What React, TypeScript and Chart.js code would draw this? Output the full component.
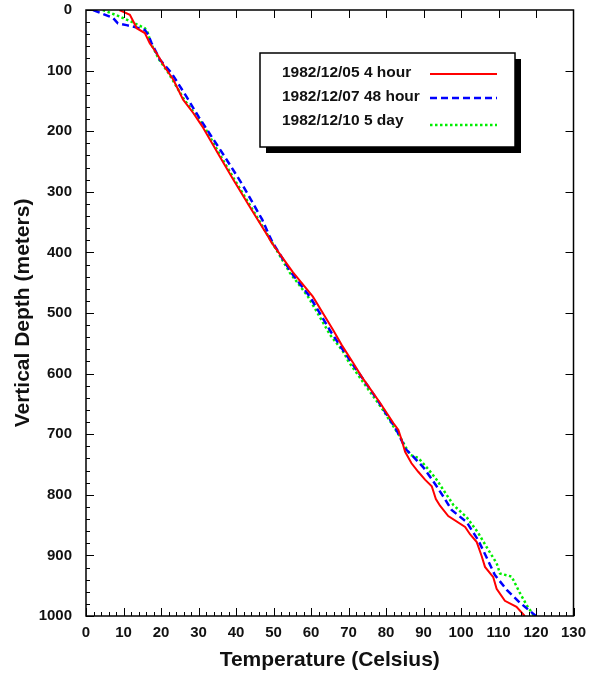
import React, { useEffect, useRef } from "react";
import { Chart, registerables } from "chart.js";

Chart.register(...registerables);

// ---- Data (depth in meters, temperature in Celsius) ----
const seriesLabels = ["1982/12/05 4 hour", "1982/12/07 48 hour", "1982/12/10 5 day"];

const redDepth = [0, 8, 21, 30, 38, 55, 71, 94, 115, 148, 170, 192, 242, 280, 325, 374, 384, 433, 473, 528, 553, 583, 605, 648, 682, 693, 710, 729, 748, 762, 775, 786, 807, 818, 835, 853, 865, 878, 901, 919, 936, 955, 975, 985, 1000];
const redTemp = [8.9, 11.7, 12.8, 13.5, 15.7, 17.0, 18.8, 21.0, 23.3, 25.9, 28.6, 31.0, 35.7, 39.3, 43.7, 48.6, 49.5, 55.2, 60.5, 65.9, 68.2, 71.3, 73.5, 78.4, 82.0, 83.3, 84.2, 85.1, 86.8, 88.6, 90.4, 92.2, 93.3, 94.4, 96.6, 101.1, 102.4, 104.2, 105.5, 106.4, 108.6, 109.5, 111.7, 114.8, 117.0];

const blueDepth = [0, 13, 22, 25, 28, 33, 41, 55, 82, 104, 143, 176, 242, 286, 346, 374, 384, 433, 473, 533, 570, 602, 646, 693, 725, 734, 755, 775, 786, 803, 825, 845, 875, 903, 932, 957, 978, 1000];
const blueTemp = [1.9, 7.2, 8.5, 10.8, 13.0, 15.7, 16.6, 17.5, 19.7, 22.8, 26.8, 30.0, 37.0, 41.5, 47.0, 49.0, 49.8, 54.7, 59.7, 65.5, 69.5, 73.1, 78.0, 82.8, 85.3, 86.8, 90.0, 92.3, 93.5, 95.3, 97.5, 101.5, 104.6, 106.8, 109.0, 112.2, 115.7, 120.0];

const greenDepth = [0, 11, 22, 30, 38, 55, 82, 104, 148, 192, 242, 280, 325, 374, 433, 473, 536, 564, 580, 615, 660, 704, 734, 739, 758, 775, 792, 817, 837, 863, 886, 913, 930, 935, 962, 982, 1000];
const greenTemp = [4.5, 9.1, 13.0, 15.7, 16.5, 17.3, 19.5, 22.0, 26.2, 31.5, 36.0, 39.6, 44.0, 48.7, 54.3, 59.2, 65.1, 68.6, 70.0, 74.0, 79.2, 83.7, 86.4, 88.6, 91.3, 93.5, 95.3, 98.0, 101.5, 104.6, 106.8, 109.5, 110.4, 113.5, 115.7, 117.5, 119.5];

const xMin = 0, xMax = 130, xStep = 10;
const yMin = 0, yMax = 1000, yStep = 100;

const FONT = "Arial, 'Liberation Sans', Helvetica, sans-serif";

const toPoints = (depth: number[], temp: number[]) =>
  depth.map((d, i) => ({ x: temp[i], y: d }));

// Box + inner ticks
const framePlugin = {
  id: "frame",
  afterDatasetsDraw(chart: any) {
    const { ctx, chartArea } = chart;
    const xs = chart.scales.x;
    const ys = chart.scales.y;
    const { left, right, top, bottom } = chartArea;
    ctx.save();
    ctx.strokeStyle = "#000";
    ctx.lineWidth = 1;
    const line = (x1: number, y1: number, x2: number, y2: number) => {
      ctx.beginPath();
      ctx.moveTo(x1, y1);
      ctx.lineTo(x2, y2);
      ctx.stroke();
    };
    const majX: number[] = xs.ticks.map((t: any) => t.value);
    const majY: number[] = ys.ticks.map((t: any) => t.value);
    majX.forEach((v: number, i: number) => {
      const px = Math.round(xs.getPixelForValue(v)) + 0.5;
      line(px, bottom, px, bottom - 8);
      if (v !== xMin && v !== xMax) line(px, top, px, top + 8);
      if (i < majX.length - 1) {
        const step = (majX[i + 1] - v) / 5;
        for (let k = 1; k < 5; k++) {
          const mx = Math.round(xs.getPixelForValue(v + k * step)) + 0.5;
          line(mx, bottom, mx, bottom - 4);
        }
      }
    });
    majY.forEach((v: number, i: number) => {
      const py = Math.round(ys.getPixelForValue(v)) + 0.5;
      line(left, py, left + 8, py);
      if (v !== yMin && v !== yMax) line(right, py, right - 8, py);
      if (i < majY.length - 1) {
        const step = (majY[i + 1] - v) / 5;
        for (let k = 1; k < 5; k++) {
          const my = Math.round(ys.getPixelForValue(v + k * step)) + 0.5;
          line(left, my, left + 4, my);
        }
      }
    });
    ctx.lineWidth = 1.5;
    ctx.strokeRect(left, top, right - left, bottom - top);
    ctx.restore();
  },
};

// Boxed legend with drop shadow
const legendPlugin = {
  id: "boxLegend",
  afterDraw(chart: any) {
    const { ctx, chartArea } = chart;
    const bx = chartArea.left + 174;
    const by = chartArea.top + 43;
    const bw = 255;
    const bh = 94;
    ctx.save();
    ctx.fillStyle = "#000";
    ctx.fillRect(bx + 6, by + 6, bw, bh);
    ctx.fillStyle = "#fff";
    ctx.fillRect(bx, by, bw, bh);
    ctx.strokeStyle = "#000";
    ctx.lineWidth = 1.5;
    ctx.strokeRect(bx, by, bw, bh);
    const rows = [20, 44, 68];
    ctx.font = `bold 15.5px ${FONT}`;
    ctx.textBaseline = "middle";
    ctx.textAlign = "left";
    chart.data.datasets.forEach((ds: any, i: number) => {
      ctx.fillStyle = "#111";
      ctx.fillText(ds.label, bx + 22, by + rows[i]);
      ctx.strokeStyle = ds.borderColor;
      ctx.lineWidth = ds.borderWidth;
      ctx.setLineDash(ds.borderDash || []);
      const ly = by + rows[i] + (i === 2 ? 4 : 1);
      ctx.beginPath();
      ctx.moveTo(bx + 170, ly);
      ctx.lineTo(bx + 237, ly);
      ctx.stroke();
      ctx.setLineDash([]);
    });
    ctx.restore();
  },
};

export default function App() {
  const ref = useRef<HTMLCanvasElement>(null);

  useEffect(() => {
    if (!ref.current) return;
    const chart = new Chart(ref.current, {
      type: "scatter",
      data: {
        datasets: [
          {
            label: seriesLabels[0],
            data: toPoints(redDepth, redTemp),
            borderColor: "#ff0000",
            borderWidth: 2,
            showLine: true,
            pointRadius: 0,
            fill: false,
          },
          {
            label: seriesLabels[1],
            data: toPoints(blueDepth, blueTemp),
            borderColor: "#0000ff",
            borderWidth: 2.5,
            borderDash: [7, 4],
            showLine: true,
            pointRadius: 0,
            fill: false,
          },
          {
            label: seriesLabels[2],
            data: toPoints(greenDepth, greenTemp),
            borderColor: "#00ee00",
            borderWidth: 2.5,
            borderDash: [2.5, 2.5],
            showLine: true,
            pointRadius: 0,
            fill: false,
          },
        ],
      },
      options: {
        responsive: false,
        animation: false,
        layout: { padding: { left: 0, right: 19.5, top: 10, bottom: 0 } },
        plugins: { legend: { display: false }, tooltip: { enabled: false } },
        scales: {
          x: {
            type: "linear",
            min: xMin,
            max: xMax,
            ticks: {
              stepSize: xStep,
              padding: 8,
              color: "#111",
              font: { family: FONT, size: 15, weight: "bold" },
              maxRotation: 0,
              callback: (v: any) => String(v),
            },
            grid: { display: false, drawTicks: false },
            border: { display: false },
            title: {
              display: true,
              text: "Temperature (Celsius)",
              color: "#111",
              font: { family: FONT, size: 21, weight: "bold" },
              padding: { top: 0, bottom: 0 },
            },
            afterFit: (s: any) => {
              s.height = 57;
              s.paddingLeft = 0;
              s.paddingRight = 0;
            },
          },
          y: {
            type: "linear",
            reverse: true,
            min: yMin,
            max: yMax,
            ticks: {
              stepSize: yStep,
              padding: 14,
              color: "#111",
              font: { family: FONT, size: 15, weight: "bold" },
              callback: (v: any) => String(v),
            },
            grid: { display: false, drawTicks: false },
            border: { display: false },
            title: {
              display: true,
              text: "Vertical Depth (meters)",
              color: "#111",
              font: { family: FONT, size: 21, weight: "bold" },
              padding: { top: 11, bottom: 0 },
            },
            afterFit: (s: any) => {
              s.width = 86;
              s.paddingTop = 0;
              s.paddingBottom = 0;
            },
          },
        },
      },
      plugins: [framePlugin, legendPlugin],
    } as any);
    return () => chart.destroy();
  }, []);

  return (
    <div style={{ position: "absolute", left: 0, top: 0, width: 593, height: 673, background: "#fff" }}>
      <canvas ref={ref} width={593} height={673} style={{ display: "block" }} />
    </div>
  );
}
